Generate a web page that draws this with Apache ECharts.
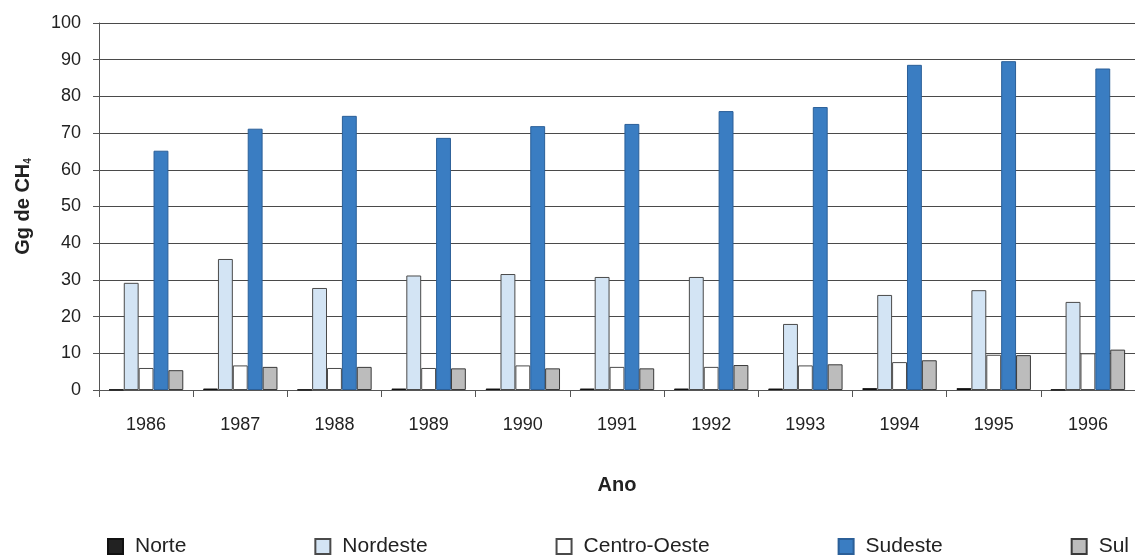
<!DOCTYPE html>
<html>
<head>
<meta charset="utf-8">
<script src="https://cdn.jsdelivr.net/npm/echarts@6/dist/echarts.min.js"></script>
<style>
  html,body{margin:0;padding:0;background:#fff;}
  #main{width:1135px;height:558px;}
</style>
</head>
<body>
<div id="main"></div>
<script>
  // anos
  var anos = ['1986','1987','1988','1989','1990','1991','1992','1993','1994','1995','1996'];
  // Gg de CH4 por regiao
  var norte       = [0.1, 0.4, 0.1, 0.4, 0.4, 0.4, 0.4, 0.4, 0.5, 0.5, 0.1];
  var nordeste    = [29.2, 35.7, 27.8, 31.2, 31.6, 30.8, 30.8, 18.0, 25.9, 27.2, 24.0];
  var centroOeste = [6.0, 6.7, 6.0, 6.0, 6.7, 6.3, 6.3, 6.7, 7.6, 9.6, 10.0];
  var sudeste     = [65.2, 71.2, 74.7, 68.7, 71.9, 72.5, 76.0, 77.1, 88.6, 89.6, 87.6];
  var sul         = [5.4, 6.3, 6.3, 5.9, 5.9, 5.9, 6.8, 7.0, 8.1, 9.5, 11.0];
  var yTicks = [0, 10, 20, 30, 40, 50, 60, 70, 80, 90, 100];

  var nomes = ['Norte','Nordeste','Centro-Oeste','Sudeste','Sul'];
  var valores = [norte, nordeste, centroOeste, sudeste, sul];
  var cores = [
    {fill:'#222222', border:'#111111'},
    {fill:'#d3e4f4', border:'#4a4a4a'},
    {fill:'#ffffff', border:'#4a4a4a'},
    {fill:'#3a7dc2', border:'#2b5f98'},
    {fill:'#bcbcbc', border:'#3a3a3a'}
  ];
  var fonte = 'Liberation Sans, Arial, sans-serif';

  var myChart = echarts.init(document.getElementById('main'));
  var series = [];
  for (var i = 0; i < nomes.length; i++) {
    series.push({
      name: nomes[i],
      type: 'bar',
      data: valores[i],
      barGap: 0,
      barCategoryGap: '21%',
      itemStyle: {
        color: cores[i].fill,
        borderColor: cores[i].border,
        borderWidth: 1
      }
    });
  }

  var option = {
    animation: false,
    backgroundColor: '#fff',
    textStyle: {fontFamily: fonte},
    legend: {
      data: nomes,
      icon: 'rect',
      left: 102,
      bottom: -4,
      width: 1200,
      itemWidth: 15,
      itemHeight: 15,
      itemGap: 128,
      textStyle: {fontSize: 21, color: '#222', fontFamily: fonte, padding: [0, 0, 0, 7]}
    },
    grid: {
      left: 99,
      top: 23,
      right: -12,
      bottom: 168,
      containLabel: false
    },
    xAxis: {
      type: 'category',
      data: anos,
      name: 'Ano',
      nameLocation: 'middle',
      nameGap: 85,
      nameTextStyle: {fontSize: 20, fontWeight: 'bold', color: '#222'},
      axisLine: {lineStyle: {color: '#555', width: 1}},
      axisTick: {show: true, length: 7, alignWithLabel: false, lineStyle: {color: '#555'}},
      axisLabel: {fontSize: 18, color: '#222', margin: 26}
    },
    yAxis: {
      type: 'value',
      min: 0,
      max: 100,
      interval: 10,
      name: '{a|Gg de CH}{b|4}',
      nameLocation: 'middle',
      nameRotate: 90,
      nameGap: 66,
      nameTextStyle: {
        rich: {
          a: {fontSize: 20, fontWeight: 'bold', color: '#222', fontFamily: fonte},
          b: {fontSize: 10, fontWeight: 'bold', color: '#222', verticalAlign: 'bottom', padding: [7, 0, 0, 0]}
        }
      },
      axisLine: {show: true, lineStyle: {color: '#555', width: 1}},
      axisTick: {show: true, length: 6, lineStyle: {color: '#555'}},
      axisLabel: {fontSize: 18, color: '#222', margin: 18,
        formatter: function (v) { return yTicks.indexOf(v) >= 0 ? String(v) : ''; }},
      splitLine: {lineStyle: {color: '#4a4a4a', width: 1}}
    },
    series: series
  };

  myChart.setOption(option);
</script>
</body>
</html>
